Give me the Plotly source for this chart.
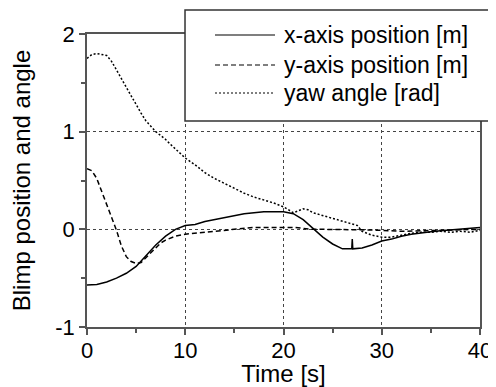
import plotly.graph_objects as go

# ---- data ----
t_x = [0, 1, 2, 3, 4, 5, 6, 7, 8, 9, 10, 11, 12, 13, 14, 15, 16, 17, 18, 19, 20,
       21, 22, 23, 24, 25, 26, 26.95, 27.0, 27.05, 28, 29, 30, 31, 32, 33, 34, 35,
       36, 37, 38, 39, 40]
x_pos = [-0.57, -0.565, -0.54, -0.50, -0.45, -0.38, -0.27, -0.16, -0.07, 0.0, 0.04,
         0.05, 0.08, 0.10, 0.12, 0.14, 0.16, 0.17, 0.18, 0.18, 0.18,
         0.16, 0.10, 0.01, -0.08, -0.15, -0.20, -0.20, -0.10, -0.20, -0.19, -0.16,
         -0.12, -0.10, -0.07, -0.05, -0.035, -0.025, -0.015, -0.005, 0.005, 0.01, 0.02]

t_y = [0, 0.5, 1, 1.5, 2, 2.5, 3, 3.5, 4, 4.5, 5, 5.5, 6, 6.5, 7, 7.5, 8, 9, 10,
       11, 12, 13, 14, 15, 16, 17, 18, 19, 20, 21, 22, 23, 24, 26, 28, 30, 32, 34,
       36, 38, 40]
y_pos = [0.62, 0.60, 0.52, 0.39, 0.25, 0.11, -0.01, -0.17, -0.28, -0.33, -0.35,
         -0.34, -0.29, -0.23, -0.18, -0.14, -0.11, -0.07, -0.05,
         -0.04, -0.03, -0.02, -0.01, 0.0, 0.01, 0.02, 0.02, 0.02, 0.02, 0.02, 0.01,
         0.0, 0.0, 0.0, -0.005, -0.01, -0.02, -0.015, -0.01, -0.005, 0.0]

t_yaw = [0, 0.5, 1, 1.5, 2, 2.5, 3, 3.5, 4, 4.5, 5, 5.5, 6, 6.5, 7, 7.5, 8, 8.5,
         9, 9.5, 10, 11, 12, 13, 14, 15, 16, 17, 18, 19, 20, 21, 22, 22.5, 23, 24,
         25, 26, 27, 27.5, 28, 29, 30, 31, 32, 33, 34, 35, 36, 37, 38, 39, 40]
yaw = [1.75, 1.79, 1.80, 1.79, 1.78, 1.72, 1.63, 1.55, 1.45, 1.36, 1.27, 1.19,
       1.11, 1.05, 1.00, 0.96, 0.92, 0.87, 0.82, 0.78, 0.73, 0.66, 0.58, 0.52,
       0.47, 0.42, 0.37, 0.33, 0.30, 0.27, 0.23, 0.17, 0.21, 0.20, 0.17, 0.14,
       0.11, 0.08, 0.05, 0.04, -0.02, -0.06, -0.08, -0.08, -0.06, -0.04, -0.03,
       -0.03, -0.02, -0.03, -0.02, -0.03, -0.01]

series_names = ["x-axis position [m]", "y-axis position [m]", "yaw angle [rad]"]
x_ticks = [0, 10, 20, 30, 40]
x_tick_labels = ["0", "10", "20", "30", "40"]
y_ticks = [-1, 0, 1, 2]
y_tick_labels = ["-1", "0", "1", "2"]

FONT = "Liberation Sans, Arial, sans-serif"
styles = [dict(color="black", width=1.5, dash="solid"),
          dict(color="black", width=1.5, dash="5px,3px"),
          dict(color="black", width=1.5, dash="2px,2px")]

fig = go.Figure()
for tt, vv, name, st in zip([t_x, t_y, t_yaw], [x_pos, y_pos, yaw], series_names, styles):
    fig.add_trace(go.Scatter(x=tt, y=vv, mode="lines", name=name, line=st,
                             showlegend=False))

axis_common = dict(showline=True, linecolor="#555555", linewidth=1.5, mirror=True,
                   ticks="outside", ticklen=6, tickcolor="#555555", tickwidth=1.5,
                   showgrid=True, gridcolor="#444444", griddash="dot", gridwidth=1,
                   zeroline=False, automargin=False,
                   tickfont=dict(family=FONT, size=22, color="black"))

fig.update_xaxes(range=[0, 40], tickvals=x_ticks, ticktext=x_tick_labels,
                 ticklabelstandoff=-3,
                 minor=dict(dtick=5, ticks="outside", ticklen=4, tickcolor="#555555",
                            tickwidth=1.5, showgrid=False),
                 title=dict(text="Time [s]", font=dict(family=FONT, size=24, color="black"),
                            standoff=0),
                 **axis_common)
fig.update_yaxes(range=[-1, 2], tickvals=y_ticks, ticktext=y_tick_labels,
                 minor=dict(dtick=0.5, ticks="outside", ticklen=4, tickcolor="#555555",
                            tickwidth=1.5, showgrid=False),
                 title=dict(text="Blimp position and angle",
                            font=dict(family=FONT, size=24, color="black"), standoff=18),
                 **axis_common)

# ---- manual legend box ----
shapes = [dict(type="rect", xref="paper", yref="paper", x0=0.2494, x1=1.06,
               y0=0.703, y1=1.082, fillcolor="white",
               line=dict(color="#333333", width=1.5), layer="above")]
annotations = []
row_y = [0.9966, 0.8942, 0.7986]
for name, st, yy in zip(series_names, styles, row_y):
    shapes.append(dict(type="line", xref="paper", yref="paper", x0=0.3257, x1=0.4784,
                       y0=yy, y1=yy, line=dict(color=st["color"], width=1.2,
                                               dash=st["dash"]), layer="above"))
    annotations.append(dict(xref="paper", yref="paper", x=0.4962, y=yy, text=name,
                            showarrow=False, xanchor="left", yanchor="middle",
                            font=dict(family=FONT, size=23, color="black")))

# page body has an 8px margin, so the figure is offset by 8px; compensate
fig.update_layout(width=488, height=379, margin=dict(l=79, r=16, t=26, b=60),
                  paper_bgcolor="white", plot_bgcolor="white",
                  shapes=shapes, annotations=annotations, showlegend=False)

fig.write_html("out.html")
